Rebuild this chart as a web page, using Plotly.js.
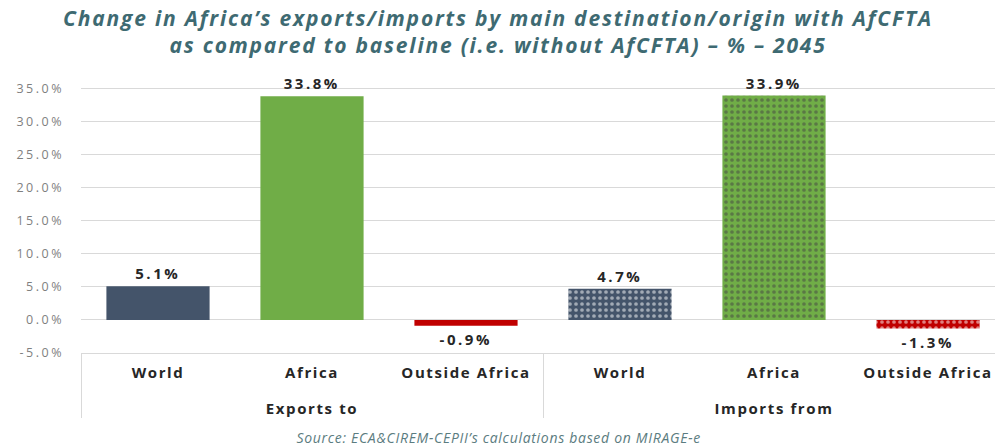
<!DOCTYPE html>
<html>
<head>
<meta charset="utf-8">
<script src="https://cdn.plot.ly/plotly-3.0.1.min.js"></script>
<style>
html, body { margin: 0; padding: 0; overflow: hidden; background: #ffffff; }
#chart { width: 1010px; height: 446px; }
#chart .ytick text { letter-spacing: 2.5px; }
#chart .xaxislayer-above text { letter-spacing: 1.6px; }
#chart text.bartext { letter-spacing: 2.5px; }
#chart .annotation-text { letter-spacing: 0.7px; }
#chart .gtitle { letter-spacing: 1.8px; }
</style>
</head>
<body>
<div id="chart"></div>
<script>
// ---- data ----
const groups = ['Exports to', 'Exports to', 'Exports to', 'Imports from', 'Imports from', 'Imports from'];
const destinations = ['World', 'Africa', 'Outside Africa', 'World', 'Africa', 'Outside Africa'];
const values = [5.1, 33.8, -0.9, 4.7, 33.9, -1.3];
const yTickVals = [-5, 0, 5, 10, 15, 20, 25, 30, 35];
const yTickText = ['-5.0%', '0.0%', '5.0%', '10.0%', '15.0%', '20.0%', '25.0%', '30.0%', '35.0%'];
const titleText = 'Change in Africa\u2019s exports/imports by main destination/origin with AfCFTA<br>as compared to baseline (i.e. without AfCFTA) \u2013 % \u2013 2045';
const sourceText = 'Source: ECA&amp;CIREM-CEPII\u2019s calculations based on MIRAGE-e';

// ---- styles ----
const barColors = ['#44546A', '#70AD47', '#C00000', '#44546A', '#70AD47', '#C00000'];
const patternShapes = ['', '', '', '.', '.', '.'];
const patternFg = ['#ffffff', '#ffffff', '#ffffff', '#c9d0da', '#b9e09c', '#f2b8b8'];

// first-level labels get an empty second line so the group labels sit lower
const destLabels = destinations.map(d => d + '<br>\u00a0');

const trace = {
  type: 'bar',
  x: [groups, destLabels],
  y: values,
  width: 0.67,
  marker: {
    color: barColors,
    line: { width: 0 },
    pattern: {
      shape: patternShapes,
      fillmode: 'overlay',
      fgcolor: patternFg,
      bgcolor: barColors,
      size: 6,
      solidity: 0.3
    }
  },
  texttemplate: '%{y:.1f}%',
  textposition: 'outside',
  cliponaxis: false,
  textfont: { family: 'Open Sans, Arial, sans-serif', size: 15, weight: 'bold', color: '#262626' },
  hoverinfo: 'skip'
};

const layout = {
  width: 1010,
  height: 446,
  margin: { l: 81, r: 5, t: 85, b: 93 },
  paper_bgcolor: '#ffffff',
  plot_bgcolor: '#ffffff',
  showlegend: false,
  title: {
    text: titleText,
    font: { family: 'Open Sans, Arial, sans-serif', size: 21, weight: 'bold', style: 'italic', color: '#3E6A72' },
    x: 498 / 1010,
    xanchor: 'center',
    xref: 'container',
    yref: 'container',
    y: 1 - 26 / 446,
    yanchor: 'top'
  },
  xaxis: {
    type: 'multicategory',
    showline: true,
    linecolor: '#D9D9D9',
    linewidth: 1,
    showdividers: true,
    dividercolor: '#D9D9D9',
    dividerwidth: 1,
    ticks: '',
    ticklabelstandoff: 6,
    tickfont: { family: 'Open Sans, Arial, sans-serif', size: 15, weight: 'bold', color: '#262626' },
    showgrid: false,
    zeroline: false,
    fixedrange: true
  },
  yaxis: {
    range: [-5, 35.5],
    tickvals: yTickVals,
    ticktext: yTickText,
    showgrid: true,
    gridcolor: '#D9D9D9',
    gridwidth: 1,
    zeroline: false,
    showline: false,
    ticks: '',
    ticklabelstandoff: 16,
    tickfont: { family: 'Open Sans, Arial, sans-serif', size: 12.5, color: '#7F7F7F' },
    fixedrange: true
  },
  annotations: [{
    text: sourceText,
    xref: 'paper',
    yref: 'paper',
    x: (498 - 81) / 924,
    y: (353 - 437) / 268,
    xanchor: 'center',
    yanchor: 'middle',
    showarrow: false,
    font: { family: 'Open Sans, Arial, sans-serif', size: 14, style: 'italic', color: '#5B7C80' }
  }]
};

Plotly.newPlot('chart', [trace], layout, { displayModeBar: false, staticPlot: true });
</script>
</body>
</html>
